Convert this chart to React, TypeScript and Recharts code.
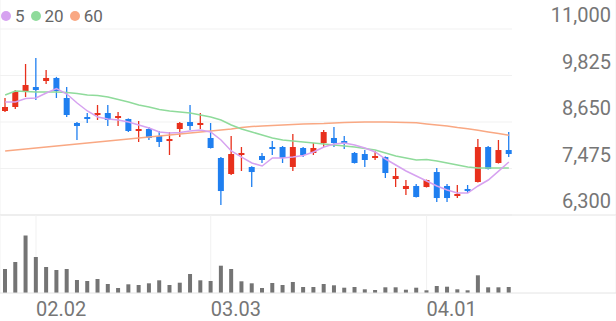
import { ComposedChart, Bar, Line, XAxis, YAxis, CartesianGrid } from "recharts";

const dates = [
  "01.28", "01.29", "01.30", "02.02", "02.03", "02.04", "02.05", "02.06", "02.09", "02.10",
  "02.11", "02.12", "02.13", "02.19", "02.20", "02.23", "02.24", "02.25", "02.26", "02.27",
  "03.03", "03.04", "03.05", "03.06", "03.09", "03.10", "03.11", "03.12", "03.13", "03.16",
  "03.17", "03.18", "03.19", "03.20", "03.23", "03.24", "03.25", "03.26", "03.27", "03.30",
  "03.31", "04.01", "04.02", "04.03", "04.06", "04.07", "04.08", "04.09", "04.10", "04.13",
];

const openPrices = [
  8928, 9029, 9433, 9534, 9686, 9762, 9256, 8625, 8776, 8852,
  8877, 8751, 8726, 8423, 8473, 8296, 8170, 8473, 8650, 8574,
  8246, 7740, 7336, 7816, 7513, 7791, 8018, 8018, 7513, 7993,
  7867, 8119, 8246, 8170, 7867, 7841, 7740, 7765, 7210, 6957,
  7033, 7007, 7386, 7033, 6780, 6957, 7134, 8018, 7614, 7942,
];
const highPrices = [
  9256, 9459, 10116, 10267, 9964, 9790, 9534, 8650, 8877, 9079,
  9079, 8903, 8740, 8675, 8524, 8423, 8397, 8650, 9079, 8877,
  8625, 7765, 8296, 8018, 7530, 7867, 8170, 8043, 8347, 8018,
  8119, 8448, 8524, 8296, 7892, 7942, 7917, 7780, 7487, 7184,
  7083, 7195, 7487, 7083, 7058, 7058, 8220, 8043, 8195, 8397,
];
const lowPrices = [
  8902, 8978, 9282, 9206, 9610, 9256, 8776, 8195, 8625, 8700,
  8549, 8549, 8397, 8145, 8195, 8018, 7816, 8271, 8448, 8473,
  7980, 6552, 7310, 7412, 7007, 7614, 7816, 7614, 7412, 7765,
  7816, 8018, 8018, 7968, 7600, 7513, 7690, 7235, 7007, 6805,
  6740, 6995, 6628, 6628, 6729, 6856, 7120, 7450, 7600, 7765,
];
const closePrices = [
  9029, 9408, 9585, 9459, 9762, 9433, 8827, 8549, 8726, 8877,
  8700, 8801, 8423, 8473, 8246, 8145, 8220, 8625, 8549, 8625,
  7993, 6906, 7841, 7867, 7386, 7690, 7993, 7740, 8018, 7816,
  7993, 8397, 8119, 8119, 7614, 7690, 7791, 7361, 7285, 7033,
  6755, 7184, 6729, 6729, 6831, 6906, 8018, 7462, 7942, 7841,
];

const ma5 = [
  9155, 9155, 9244, 9256, 9383, 9496, 9357, 9130, 8928, 8776,
  8726, 8700, 8650, 8574, 8498, 8397, 8372, 8385, 8423, 8448,
  8397, 8195, 7917, 7765, 7614, 7538, 7740, 7740, 7765, 7803,
  7892, 8018, 8094, 8119, 8069, 7993, 7892, 7715, 7563, 7412,
  7285, 7159, 7033, 6932, 6856, 6856, 7033, 7184, 7410, 7639,
];
const ma20 = [
  9332, 9433, 9421, 9408, 9408, 9408, 9395, 9370, 9332, 9320,
  9282, 9218, 9155, 9079, 9029, 8966, 8928, 8903, 8877, 8827,
  8776, 8700, 8574, 8473, 8397, 8321, 8246, 8195, 8170, 8145,
  8119, 8094, 8069, 8043, 8018, 7980, 7942, 7866, 7791, 7740,
  7690, 7702, 7664, 7614, 7563, 7513, 7487, 7487, 7487, 7487,
];
const ma60 = [
  7917, 7942, 7968, 7993, 8018, 8043, 8069, 8094, 8119, 8145,
  8170, 8195, 8220, 8246, 8271, 8296, 8321, 8347, 8372, 8397,
  8423, 8448, 8473, 8511, 8536, 8549, 8562, 8574, 8587, 8600,
  8605, 8612, 8625, 8638, 8643, 8650, 8650, 8650, 8645, 8638,
  8630, 8600, 8574, 8549, 8511, 8480, 8440, 8400, 8360, 8315,
];

const volumes = [
  240000, 310000, 575000, 360000, 260000, 230000, 240000, 130000, 120000, 140000,
  90000, 50000, 87000, 80000, 97000, 127000, 80000, 103000, 190000, 127000,
  120000, 273000, 240000, 117000, 97000, 50000, 100000, 80000, 110000, 60000,
  60000, 90000, 77000, 53000, 60000, 37000, 30000, 57000, 57000, 33000,
  53000, 27000, 70000, 63000, 37000, 27000, 177000, 57000, 57000, 60000,
];

const priceTicks = [6300, 7475, 8650, 9825, 11000];
const dateTicks = ["02.02", "03.03", "04.01"];

const COLORS = {
  up: "#e8301c",
  down: "#1f7ff0",
  ma5: "#d6a2f0",
  ma20: "#8fdb9b",
  ma60: "#f9a883",
  grid: "#f1f1f1",
  axis: "#e4e4e4",
  text: "#767676",
  legend: "#666666",
  volume: "#747474",
};

const FONT = "Roboto, sans-serif";

const data = dates.map((date, i) => ({
  date,
  open: openPrices[i],
  high: highPrices[i],
  low: lowPrices[i],
  close: closePrices[i],
  range: [lowPrices[i], highPrices[i]],
  ma5: ma5[i],
  ma20: ma20[i],
  ma60: ma60[i],
  volume: volumes[i],
}));

function Candle(props: any) {
  const { x, y, width, height, payload } = props;
  const { open, close, high, low } = payload;
  const color = close >= open ? COLORS.up : COLORS.down;
  const top = Math.min(y, y + height);
  const h = Math.abs(height);
  const span = high - low || 1;
  const toY = (v: number) => top + ((high - v) / span) * h;
  const cx = x + width / 2;
  const bodyTop = toY(Math.max(open, close));
  const bodyBottom = toY(Math.min(open, close));
  return (
    <g>
      <line x1={cx} x2={cx} y1={top} y2={top + h} stroke={color} strokeWidth={1.3} />
      <rect x={x} y={bodyTop} width={width} height={Math.max(bodyBottom - bodyTop, 2)} fill={color} />
    </g>
  );
}

function PriceTick(props: any) {
  const { y, payload } = props;
  return (
    <text x={611} y={y - 14} dy="0.355em" textAnchor="end" fill={COLORS.text} fontSize={20} fontFamily={FONT}>
      {Number(payload.value).toLocaleString("en-US")}
    </text>
  );
}

function DateTick(props: any) {
  const { x, y, payload } = props;
  return (
    <text x={x} y={y} dy={15} textAnchor="start" fill={COLORS.text} fontSize={20} fontFamily={FONT}>
      {payload.value}
    </text>
  );
}

const legendItems = [
  { label: "5", color: COLORS.ma5 },
  { label: "20", color: COLORS.ma20 },
  { label: "60", color: COLORS.ma60 },
];

export default function App() {
  return (
    <div style={{ position: "absolute", left: 0, top: 0, width: 616, height: 321, background: "#fff", fontFamily: FONT }}>
      <div style={{ position: "absolute", left: 0, top: 0 }}>
        <ComposedChart width={616} height={216} data={data} margin={{ top: 29, right: 0, bottom: 0, left: 0 }}>
          <CartesianGrid
            horizontal={(p: any) => (
              <line key={p.key} x1={p.x1} x2={512} y1={p.y1} y2={p.y2} stroke={COLORS.grid} strokeWidth={1} />
            )}
            vertical={(p: any) => (
              <line key={p.key} x1={p.x1} x2={p.x2} y1={0} y2={p.y2} stroke={COLORS.grid} strokeWidth={1} />
            )}
          />
          <XAxis
            dataKey="date"
            ticks={dateTicks}
            interval={0}
            height={1}
            tick={false}
            tickLine={false}
            axisLine={{ stroke: COLORS.axis }}
            padding={{ left: 0, right: 102 }}
          />
          <YAxis
            orientation="right"
            mirror
            width={100}
            domain={[6300, 11000]}
            ticks={priceTicks}
            interval={0}
            tick={<PriceTick />}
            tickLine={false}
            axisLine={false}
          />
          <Line dataKey="ma60" stroke={COLORS.ma60} strokeWidth={1.5} dot={false} isAnimationActive={false} />
          <Line dataKey="ma20" stroke={COLORS.ma20} strokeWidth={1.5} dot={false} isAnimationActive={false} />
          <Line dataKey="ma5" stroke={COLORS.ma5} strokeWidth={1.5} dot={false} isAnimationActive={false} />
          <Bar dataKey="range" shape={Candle} barSize={6} isAnimationActive={false} />
        </ComposedChart>
      </div>
      <div style={{ position: "absolute", left: 0, top: 215 }}>
        <ComposedChart width={616} height={106} data={data} margin={{ top: 0, right: 0, bottom: 0, left: 0 }}>
          <CartesianGrid horizontal={false} stroke={COLORS.grid} />
          <XAxis
            dataKey="date"
            ticks={dateTicks}
            interval={0}
            height={28}
            tickLine={false}
            axisLine={{ stroke: COLORS.axis }}
            tick={<DateTick />}
            padding={{ left: 0, right: 102 }}
          />
          <YAxis hide domain={[0, 780000]} />
          <Bar dataKey="volume" fill={COLORS.volume} barSize={4} isAnimationActive={false} />
        </ComposedChart>
      </div>
      <div style={{ position: "absolute", left: 1, top: 3, display: "flex", alignItems: "center", fontSize: 17, color: COLORS.legend, lineHeight: "26px" }}>
        {legendItems.map((item) => (
          <div key={item.label} style={{ display: "flex", alignItems: "center", marginRight: 6 }}>
            <span style={{ width: 10, height: 10, borderRadius: 5, background: item.color, marginRight: 4 }} />
            <span>{item.label}</span>
          </div>
        ))}
      </div>
    </div>
  );
}
